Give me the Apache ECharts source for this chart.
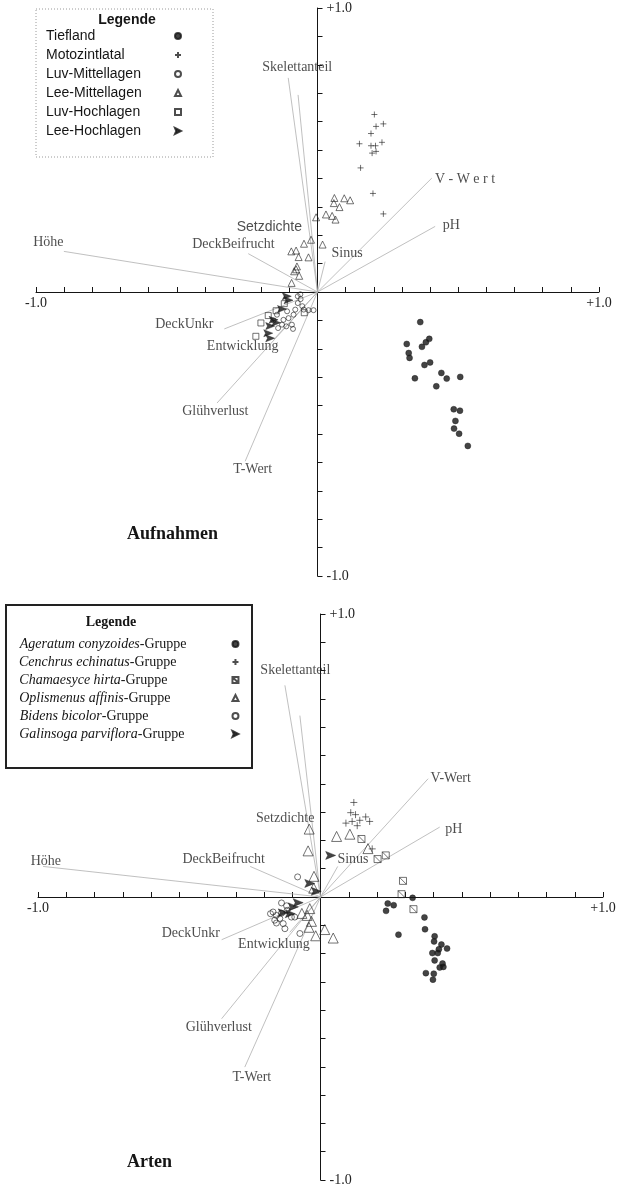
<!DOCTYPE html>
<html>
<head>
<meta charset="utf-8">
<title>CCA Aufnahmen / Arten</title>
<script src="https://cdn.jsdelivr.net/npm/echarts@6/dist/echarts.min.js"></script>
<style>
  html, body { margin: 0; padding: 0; background: #fff; }
  #chart { width: 620px; height: 1188px; }
</style>
</head>
<body>
<div id="chart"></div>
<script>
// ---------- Aufnahmen (oben) ----------
var tiefland = [[0.365,-0.106],[0.317,-0.183],[0.385,-0.177],[0.397,-0.165],[0.371,-0.193],[0.324,-0.215],[0.327,-0.232],[0.380,-0.257],[0.400,-0.248],[0.346,-0.304],[0.440,-0.285],[0.459,-0.305],[0.507,-0.299],[0.422,-0.332],[0.484,-0.413],[0.506,-0.418],[0.490,-0.454],[0.485,-0.481],[0.503,-0.499],[0.534,-0.542]]
var motozintlatal = [[0.202,0.625],[0.234,0.592],[0.208,0.583],[0.190,0.558],[0.149,0.522],[0.229,0.527],[0.190,0.515],[0.206,0.515],[0.208,0.495],[0.194,0.489],[0.153,0.437],[0.197,0.347],[0.234,0.275]]
var luvMittel = [[-0.070,-0.015],[-0.060,-0.025],[-0.070,-0.039],[-0.054,-0.050],[-0.032,-0.064],[-0.014,-0.064],[-0.079,-0.062],[-0.049,-0.062],[-0.108,-0.068],[-0.085,-0.080],[-0.103,-0.092],[-0.144,-0.080],[-0.121,-0.098],[-0.091,-0.115],[-0.111,-0.121],[-0.126,-0.115],[-0.140,-0.127],[-0.087,-0.130],[-0.156,-0.100],[-0.061,-0.008]]
var leeMittel = [[0.060,0.331],[0.095,0.330],[0.116,0.323],[0.058,0.313],[0.078,0.299],[0.030,0.273],[0.052,0.268],[0.064,0.255],[-0.005,0.263],[-0.023,0.184],[-0.048,0.170],[0.018,0.167],[-0.076,0.146],[-0.093,0.143],[-0.067,0.123],[-0.032,0.122],[-0.073,0.090],[-0.083,0.073],[-0.065,0.057],[-0.092,0.032],[-0.076,0.080]]
var luvHoch = [[-0.201,-0.109],[-0.219,-0.156],[-0.175,-0.083],[-0.147,-0.066],[-0.118,-0.041],[-0.047,-0.073]]
var leeHoch = [[-0.109,-0.015],[-0.103,-0.029],[-0.126,-0.060],[-0.156,-0.098],[-0.147,-0.108],[-0.168,-0.120],[-0.175,-0.145],[-0.168,-0.163]]

var topVectors = [[-0.104,0.754],[-0.069,0.694],[-0.246,0.135],[-0.901,0.143],[0.027,0.107],[0.406,0.401],[0.418,0.231],[-0.331,-0.130],[-0.150,-0.161],[-0.357,-0.391],[-0.257,-0.596]]
var topLabels = ['Skelettanteil','Setzdichte','DeckBeifrucht','Höhe','Sinus','V - W e r t','pH','DeckUnkr','Entwicklung','Glühverlust','T-Wert']
var topLabelPos = [[-0.072,0.790],[-0.171,0.230],[-0.299,0.167],[-0.956,0.174],[0.105,0.135],[0.524,0.395],[0.475,0.233],[-0.473,-0.115],[-0.266,-0.192],[-0.363,-0.420],[-0.230,-0.626]]

// ---------- Arten (unten) ----------
var ageratum = [[0.326,-0.003],[0.238,-0.023],[0.259,-0.029],[0.232,-0.049],[0.368,-0.072],[0.370,-0.114],[0.276,-0.133],[0.404,-0.139],[0.402,-0.157],[0.428,-0.168],[0.448,-0.182],[0.419,-0.185],[0.396,-0.198],[0.415,-0.198],[0.404,-0.224],[0.432,-0.235],[0.422,-0.249],[0.435,-0.247],[0.373,-0.269],[0.401,-0.271],[0.398,-0.292]]
var cenchrus = [[0.118,0.334],[0.107,0.298],[0.124,0.291],[0.160,0.283],[0.139,0.271],[0.112,0.267],[0.090,0.261],[0.174,0.267],[0.130,0.252],[0.183,0.170]]
var chamaesyce = [[0.145,0.205],[0.231,0.147],[0.202,0.134],[0.292,0.057],[0.287,0.010],[0.329,-0.043]]
var oplismenus = [[-0.040,0.240],[0.057,0.214],[0.104,0.222],[-0.044,0.163],[0.168,0.171],[-0.023,0.073],[-0.024,0.031],[-0.038,-0.041],[-0.047,-0.065],[-0.032,-0.086],[-0.041,-0.107],[-0.017,-0.137],[0.015,-0.115],[0.045,-0.145],[-0.066,-0.058]]
var bidens = [[-0.081,0.071],[-0.138,-0.021],[-0.168,-0.053],[-0.156,-0.065],[-0.138,-0.057],[-0.177,-0.059],[-0.162,-0.082],[-0.144,-0.076],[-0.132,-0.094],[-0.156,-0.092],[-0.126,-0.112],[-0.103,-0.071],[-0.118,-0.047],[-0.073,-0.129],[-0.091,-0.071],[-0.120,-0.031]]
var galinsoga = [[0.036,0.147],[-0.038,0.048],[-0.015,0.020],[-0.079,-0.020],[-0.096,-0.035],[-0.132,-0.056],[-0.107,-0.059]]

var bottomVectors = [[-0.126,0.748],[-0.073,0.641],[-0.249,0.108],[-0.982,0.108],[0.061,0.108],[0.381,0.418],[0.422,0.247],[-0.350,-0.151],[-0.109,-0.125],[-0.350,-0.430],[-0.268,-0.601]]
var bottomLabels = ['Skelettanteil','Setzdichte','DeckBeifrucht','Höhe','Sinus','V-Wert','pH','DeckUnkr','Entwicklung','Glühverlust','T-Wert']
var bottomLabelPos = [[-0.089,0.801],[-0.125,0.277],[-0.343,0.133],[-0.972,0.127],[0.115,0.133],[0.461,0.418],[0.472,0.238],[-0.459,-0.129],[-0.165,-0.168],[-0.360,-0.459],[-0.243,-0.636]]

var topNames = ['Tiefland','Motozintlatal','Luv-Mittellagen','Lee-Mittellagen','Luv-Hochlagen','Lee-Hochlagen']
var bottomNames = ['Ageratum conyzoides-Gruppe','Cenchrus echinatus-Gruppe','Chamaesyce hirta-Gruppe','Oplismenus affinis-Gruppe','Bidens bicolor-Gruppe','Galinsoga parviflora-Gruppe']

var SERIF = '"Liberation Serif", "DejaVu Serif", serif'
var SANS = '"Liberation Sans", Arial, sans-serif'
var INK = '#151515'

var PLUS = 'path://M5,0L5,10M0,5L10,5'
var ARROW = 'path://M0,0L10,5L0,10L2,5Z'
var XSQUARE = 'path://M0,0L10,0L10,10L0,10Z M0,0L10,10'

// grids: [left, top, width, height]
var grids = [[36, 8, 563, 568], [38, 614, 565, 566]]

// text measuring, used to pad legend labels so the icons form a column
var measureCtx = document.createElement('canvas').getContext('2d')
function textWidth(str, font) {
  measureCtx.font = font
  return measureCtx.measureText(str).width
}

function endLabel(v) {
  if (Math.abs(v - 1) < 1e-6) return '+1.0'
  if (Math.abs(v + 1) < 1e-6) return '-1.0'
  return ''
}

function xAxisFor(gi) {
  return {
    gridIndex: gi, type: 'value', min: -1, max: 1, interval: 0.1,
    position: 'bottom', offset: -grids[gi][3] / 2,
    axisLine: { onZero: false, lineStyle: { color: INK, width: 1 } },
    axisTick: { inside: true, length: 5, lineStyle: { color: INK, width: 1 } },
    splitLine: { show: false },
    axisLabel: { formatter: endLabel, showMinLabel: true, showMaxLabel: true,
      fontFamily: SERIF, fontSize: 14, color: '#222', margin: 4 }
  }
}
function yAxisFor(gi) {
  return {
    gridIndex: gi, type: 'value', min: -1, max: 1, interval: 0.1,
    position: 'left', offset: -grids[gi][2] / 2,
    axisLine: { onZero: false, lineStyle: { color: INK, width: 1 } },
    axisTick: { inside: true, length: 5, lineStyle: { color: INK, width: 1 } },
    splitLine: { show: false },
    axisLabel: { inside: true, formatter: endLabel, showMinLabel: true, showMaxLabel: true,
      fontFamily: SERIF, fontSize: 14, color: '#222', margin: 9 }
  }
}

function vectorSeries(gi, vecs) {
  return {
    type: 'lines', coordinateSystem: 'cartesian2d', xAxisIndex: gi, yAxisIndex: gi,
    silent: true, z: 1,
    lineStyle: { color: '#b0b0b0', width: 0.8, opacity: 1 },
    data: vecs.map(function (v) { return { coords: [[0, 0], v] } })
  }
}

function labelSeries(gi, texts, pos, sansIdx) {
  return {
    type: 'scatter', xAxisIndex: gi, yAxisIndex: gi, symbolSize: 0, silent: true, z: 3,
    label: { show: true, position: 'inside', formatter: '{b}', color: '#222',
      fontFamily: SERIF, fontSize: 14 },
    data: texts.map(function (t, i) {
      var d = { name: t, value: pos[i] }
      if (i === sansIdx) d.label = { fontFamily: SANS }
      return d
    })
  }
}

function pointSeries(gi, name, data, symbol, size, filled) {
  return {
    name: name, type: 'scatter', xAxisIndex: gi, yAxisIndex: gi, z: 4,
    symbol: symbol, symbolSize: size,
    itemStyle: filled
      ? { color: INK, borderColor: INK, borderWidth: 0.5 }
      : { color: 'rgba(0,0,0,0)', borderColor: '#222', borderWidth: 0.8 },
    data: data
  }
}

var chart = echarts.init(document.getElementById('chart'))
var option = {
  animation: false,
  backgroundColor: '#fff',
  title: [
    { text: 'Aufnahmen', left: 127, top: 525, padding: 0,
      textStyle: { fontFamily: SERIF, fontWeight: 'bold', fontSize: 18, color: INK } },
    { text: 'Arten', left: 127, top: 1153, padding: 0,
      textStyle: { fontFamily: SERIF, fontWeight: 'bold', fontSize: 18, color: INK } }
  ],
  grid: grids.map(function (g) {
    return { left: g[0], top: g[1], width: g[2], height: g[3] }
  }),
  xAxis: [xAxisFor(0), xAxisFor(1)],
  yAxis: [yAxisFor(0), yAxisFor(1)],
  legend: [
    {
      data: topNames, orient: 'vertical', left: 46, top: 29, padding: 0,
      align: 'right', itemGap: 5, itemWidth: 6, itemHeight: 6, selectedMode: false,
      formatter: function (n) { return '{a|' + n + '}' },
      textStyle: { color: INK, fontFamily: SANS, fontSize: 14,
        rich: { a: { width: 124, align: 'left', fontFamily: SANS, fontSize: 14, lineHeight: 16, color: INK } } }
    },
    {
      data: bottomNames, orient: 'vertical', left: 19, top: 637, padding: 0,
      align: 'right', itemGap: 4, itemWidth: 6, itemHeight: 6, selectedMode: false,
      formatter: function (n) {
        var genus = n.replace('-Gruppe', '')
        var used = textWidth(genus, 'italic 14px ' + SERIF) + textWidth('-Gruppe', '14px ' + SERIF)
        var pad = Math.max(1, Math.round(208 - used))
        return '{i|' + genus + '}{n|-Gruppe}{p' + pad + '| }'
      },
      textStyle: { color: INK, fontFamily: SERIF, fontSize: 14,
        rich: (function () {
          var r = {
            i: { align: 'left', fontFamily: SERIF, fontSize: 14, fontStyle: 'italic', lineHeight: 16, color: INK },
            n: { align: 'left', fontFamily: SERIF, fontSize: 14, lineHeight: 16, color: INK }
          }
          for (var w = 1; w <= 208; w++) r['p' + w] = { align: 'left', width: w, fontSize: 14, lineHeight: 16 }
          return r
        })() }
    }
  ],
  graphic: [
    { type: 'rect', shape: { x: 36, y: 9, width: 177, height: 148 },
      style: { fill: 'none', stroke: '#9a9a9a', lineWidth: 1, lineDash: [1, 2] } },
    { type: 'text', x: 127, y: 20,
      style: { text: 'Legende', fontFamily: SANS, fontWeight: 'bold', fontSize: 14,
        fill: INK, align: 'center', verticalAlign: 'middle' } },
    { type: 'rect', shape: { x: 6, y: 605, width: 246, height: 163 },
      style: { fill: 'none', stroke: '#222', lineWidth: 2 } },
    { type: 'text', x: 111, y: 622,
      style: { text: 'Legende', fontFamily: SERIF, fontWeight: 'bold', fontSize: 14,
        fill: INK, align: 'center', verticalAlign: 'middle' } }
  ],
  series: [
    vectorSeries(0, topVectors),
    labelSeries(0, topLabels, topLabelPos, 1),
    pointSeries(0, 'Tiefland', tiefland, 'circle', 6, true),
    pointSeries(0, 'Motozintlatal', motozintlatal, PLUS, 6, false),
    pointSeries(0, 'Luv-Mittellagen', luvMittel, 'circle', 5, false),
    pointSeries(0, 'Lee-Mittellagen', leeMittel, 'triangle', 7, false),
    pointSeries(0, 'Luv-Hochlagen', luvHoch, 'rect', 6, false),
    pointSeries(0, 'Lee-Hochlagen', leeHoch, ARROW, [9, 7], true),

    vectorSeries(1, bottomVectors),
    labelSeries(1, bottomLabels, bottomLabelPos, -1),
    pointSeries(1, 'Ageratum conyzoides-Gruppe', ageratum, 'circle', 6, true),
    pointSeries(1, 'Cenchrus echinatus-Gruppe', cenchrus, PLUS, 7, false),
    pointSeries(1, 'Chamaesyce hirta-Gruppe', chamaesyce, XSQUARE, 7, false),
    pointSeries(1, 'Oplismenus affinis-Gruppe', oplismenus, 'triangle', 10, false),
    pointSeries(1, 'Bidens bicolor-Gruppe', bidens, 'circle', 6, false),
    pointSeries(1, 'Galinsoga parviflora-Gruppe', galinsoga, ARROW, [10, 8], true)
  ]
}
chart.setOption(option)
</script>
</body>
</html>
